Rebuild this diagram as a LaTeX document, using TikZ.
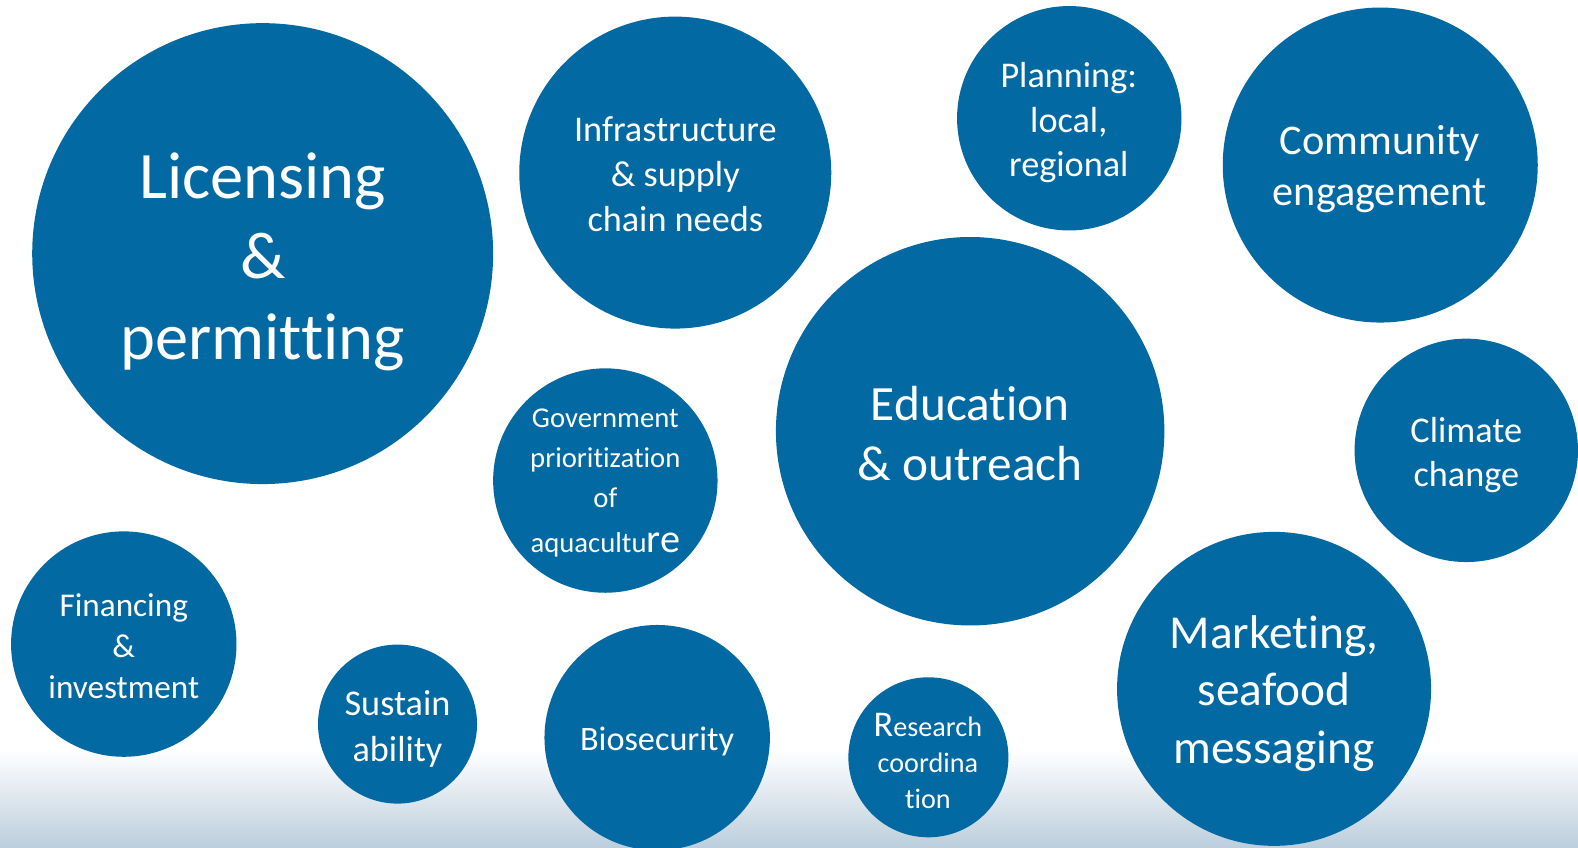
\documentclass[tikz,border=0pt]{standalone}
\usepackage{fontspec}
\setmainfont{Carlito}[Ligatures=NoCommon]
\definecolor{bub}{RGB}{3,105,162}
\definecolor{floor}{RGB}{188,206,220}
\tikzset{
  circ/.style={circle, fill=bub, draw=none, inner sep=0pt},
  lbl/.style={text=white, align=center, inner sep=0pt, anchor=center},
}
\newcommand{\fs}[2]{\fontsize{#1}{#2}\selectfont}
\begin{document}
\begin{tikzpicture}[x=1pt,y=-1pt]
\useasboundingbox (0,0) rectangle (1568,842);
\fill[white] (0,0) rectangle (1568,842);
\shade[top color=white, bottom color=floor, draw=none] (0,745) rectangle (1568,842);
% circles
\node[circ, minimum size=458] (lic) at (261,252) {};
\node[circ, minimum size=310] (inf) at (671,171.5) {};
\node[circ, minimum size=223] (pla) at (1062.5,117.5) {};
\node[circ, minimum size=313] (com) at (1371.5,164) {};
\node[circ, minimum size=386] (edu) at (964,428.5) {};
\node[circ, minimum size=222] (cli) at (1457,447.5) {};
\node[circ, minimum size=223] (gov) at (601.5,477.5) {};
\node[circ, minimum size=224] (fin) at (123,640) {};
\node[circ, minimum size=158] (sus) at (395,719.5) {};
\node[circ, minimum size=224] (bio) at (653,733) {};
\node[circ, minimum size=159] (res) at (922.5,752.5) {};
\node[circ, minimum size=312] (mar) at (1266,684.5) {};
% labels
\node[lbl, font=\fs{66}{80}] (licT) at (261,260) {Licensing\\\&\\permitting};
\node[lbl, font=\fs{36}{45}] (infT) at (671,173) {Infrastructure\\\& supply\\chain needs};
\node[lbl, font=\fs{36}{44}] (plaT) at (1062,122) {Planning:\\local,\\regional};
\node[lbl, font=\fs{42}{51}] (comT) at (1371,168) {Community\\engagement};
\node[lbl, font=\fs{49}{60}] (eduT) at (964,431) {Education\\\& outreach};
\node[lbl, font=\fs{36}{44}] (cliT) at (1457,452) {Climate\\change};
\node[lbl, font=\fs{28.5}{39.5}] (govT) at (601.5,480) {Government\\prioritization\\of\\[5pt]aquacultu{\fs{40}{40}re}};
\node[lbl, font=\fs{33}{41}] (finT) at (123,642) {Financing\\\&\\investment};
\node[lbl, font=\fs{36}{46}] (susT) at (395,724) {Sustain\\ability};
\node[lbl, font=\fs{34}{40}] (bioT) at (653,737) {Biosecurity};
\node[lbl, font=\fs{28}{36}] (resT) at (922,756) {{\fs{36}{36}R}esearch\\coordina\\tion};
\node[lbl, font=\fs{47}{57}] (marT) at (1266,689) {Marketing,\\seafood\\messaging};
\end{tikzpicture}
\end{document}
